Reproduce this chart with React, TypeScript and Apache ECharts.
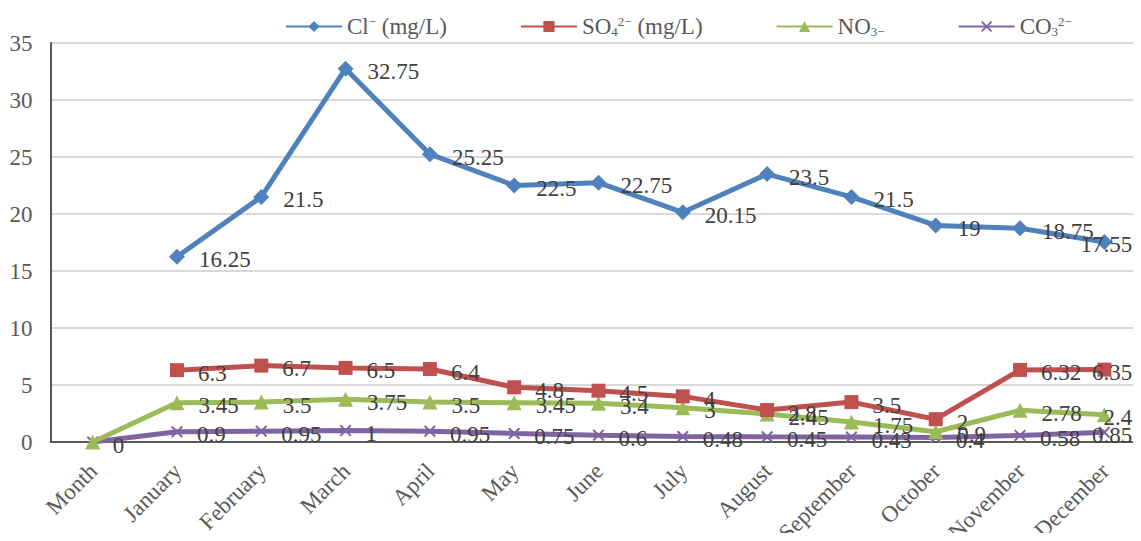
import React, { useEffect, useRef } from "react";
import * as echarts from "echarts";

const categories = ["Month", "January", "February", "March", "April", "May", "June", "July", "August", "September", "October", "November", "December"];
const seriesNames = ["Cl⁻ (mg/L)", "SO₄²⁻ (mg/L)", "NO₃₋", "CO₃²⁻"];
const clValues = [null, 16.25, 21.5, 32.75, 25.25, 22.5, 22.75, 20.15, 23.5, 21.5, 19, 18.75, 17.55];
const so4Values = [null, 6.3, 6.7, 6.5, 6.4, 4.8, 4.5, 4, 2.8, 3.5, 2, 6.32, 6.35];
const no3Values = [0, 3.45, 3.5, 3.75, 3.5, 3.45, 3.4, 3, 2.45, 1.75, 0.9, 2.78, 2.4];
const co3Values = [0, 0.9, 0.95, 1, 0.95, 0.75, 0.6, 0.48, 0.45, 0.43, 0.4, 0.58, 0.85];
const yTicks = { min: 0, max: 35, interval: 5 };

const colors = ["#4F81BD", "#C0504D", "#9BBB59", "#8064A2"];
const FONT = "Liberation Serif";
const X_PATH = "path://M0,1.2 L1.2,0 L5,3.8 L8.8,0 L10,1.2 L6.2,5 L10,8.8 L8.8,10 L5,6.2 L1.2,10 L0,8.8 L3.8,5 Z";

const legendRich: Record<string, string> = {
  "Cl⁻ (mg/L)": "Cl{sup|−} (mg/L)",
  "SO₄²⁻ (mg/L)": "SO{sub|4}{sup|2−} (mg/L)",
  "NO₃₋": "NO{sub|3−}",
  "CO₃²⁻": "CO{sub|3}{sup|2−}",
};

export default function App() {
  const ref = useRef<HTMLDivElement>(null);
  useEffect(() => {
    if (!ref.current) return;
    const chart = echarts.init(ref.current, null, { renderer: "svg" });
    const dataSets = [clValues, so4Values, no3Values, co3Values];
    const symbols = ["diamond", "rect", "triangle", X_PATH];
    const sizes = [16, 14, 15, 12];
    const lastIdx = categories.length - 1;
    chart.setOption({
      animation: false,
      textStyle: { fontFamily: FONT },
      legend: {
        left: 280,
        top: 10,
        itemWidth: 56,
        itemHeight: 14,
        itemGap: 73,
        data: seriesNames,
        formatter: (name: string) => legendRich[name] || name,
        textStyle: {
          fontFamily: FONT,
          fontSize: 23,
          color: "#595959",
          rich: {
            sup: { fontSize: 13, verticalAlign: "top", fontFamily: FONT, color: "#595959", padding: [0, 0, 9, 0] },
            sub: { fontSize: 13, verticalAlign: "bottom", fontFamily: FONT, color: "#595959", padding: [9, 0, 0, 0] },
          },
        },
      },
      grid: { left: 50.5, right: -5.5, top: 43, bottom: 99, containLabel: false, outerBoundsMode: "none" },
      xAxis: {
        type: "category",
        data: categories,
        boundaryGap: true,
        axisLine: { lineStyle: { color: "#595959", width: 2 } },
        axisTick: { show: false },
        axisLabel: {
          rotate: 45,
          margin: 26,
          padding: [0, -1, 0, 0],
          fontSize: 23,
          fontFamily: FONT,
          color: "#595959",
          interval: 0,
        },
      },
      yAxis: {
        type: "value",
        min: yTicks.min,
        max: yTicks.max,
        interval: yTicks.interval,
        axisLine: { show: true, lineStyle: { color: "#595959", width: 2 } },
        axisTick: { show: false },
        splitLine: { lineStyle: { color: "#d9d9d9", width: 2 } },
        axisLabel: { fontSize: 23, fontFamily: FONT, color: "#595959", margin: 18 },
      },
      series: seriesNames.map((name, i) => ({
        name,
        type: "line",
        data: dataSets[i].map((v, j) => {
          if (j === lastIdx) {
            return {
              value: v,
              label: { position: "left", distance: 0, offset: [28 + sizes[i] / 2, 3] },
            };
          }
          if (j === 0 && i === 2) {
            return { value: v, label: { show: false } };
          }
          return v;
        }),
        color: colors[i],
        symbol: symbols[i],
        symbolSize: sizes[i],
        showAllSymbol: true,
        connectNulls: false,
        lineStyle: { width: 5, color: colors[i] },
        itemStyle: { color: colors[i] },
        label: {
          show: true,
          position: "right",
          distance: 14,
          offset: [0, 3],
          fontSize: 23,
          fontFamily: FONT,
          color: "#404040",
        },
        emphasis: { disabled: true },
        z: 10 - i,
      })),
    });
    return () => chart.dispose();
  }, []);
  return <div ref={ref} style={{ width: 1141, height: 541, margin: -8 }} />;
}
